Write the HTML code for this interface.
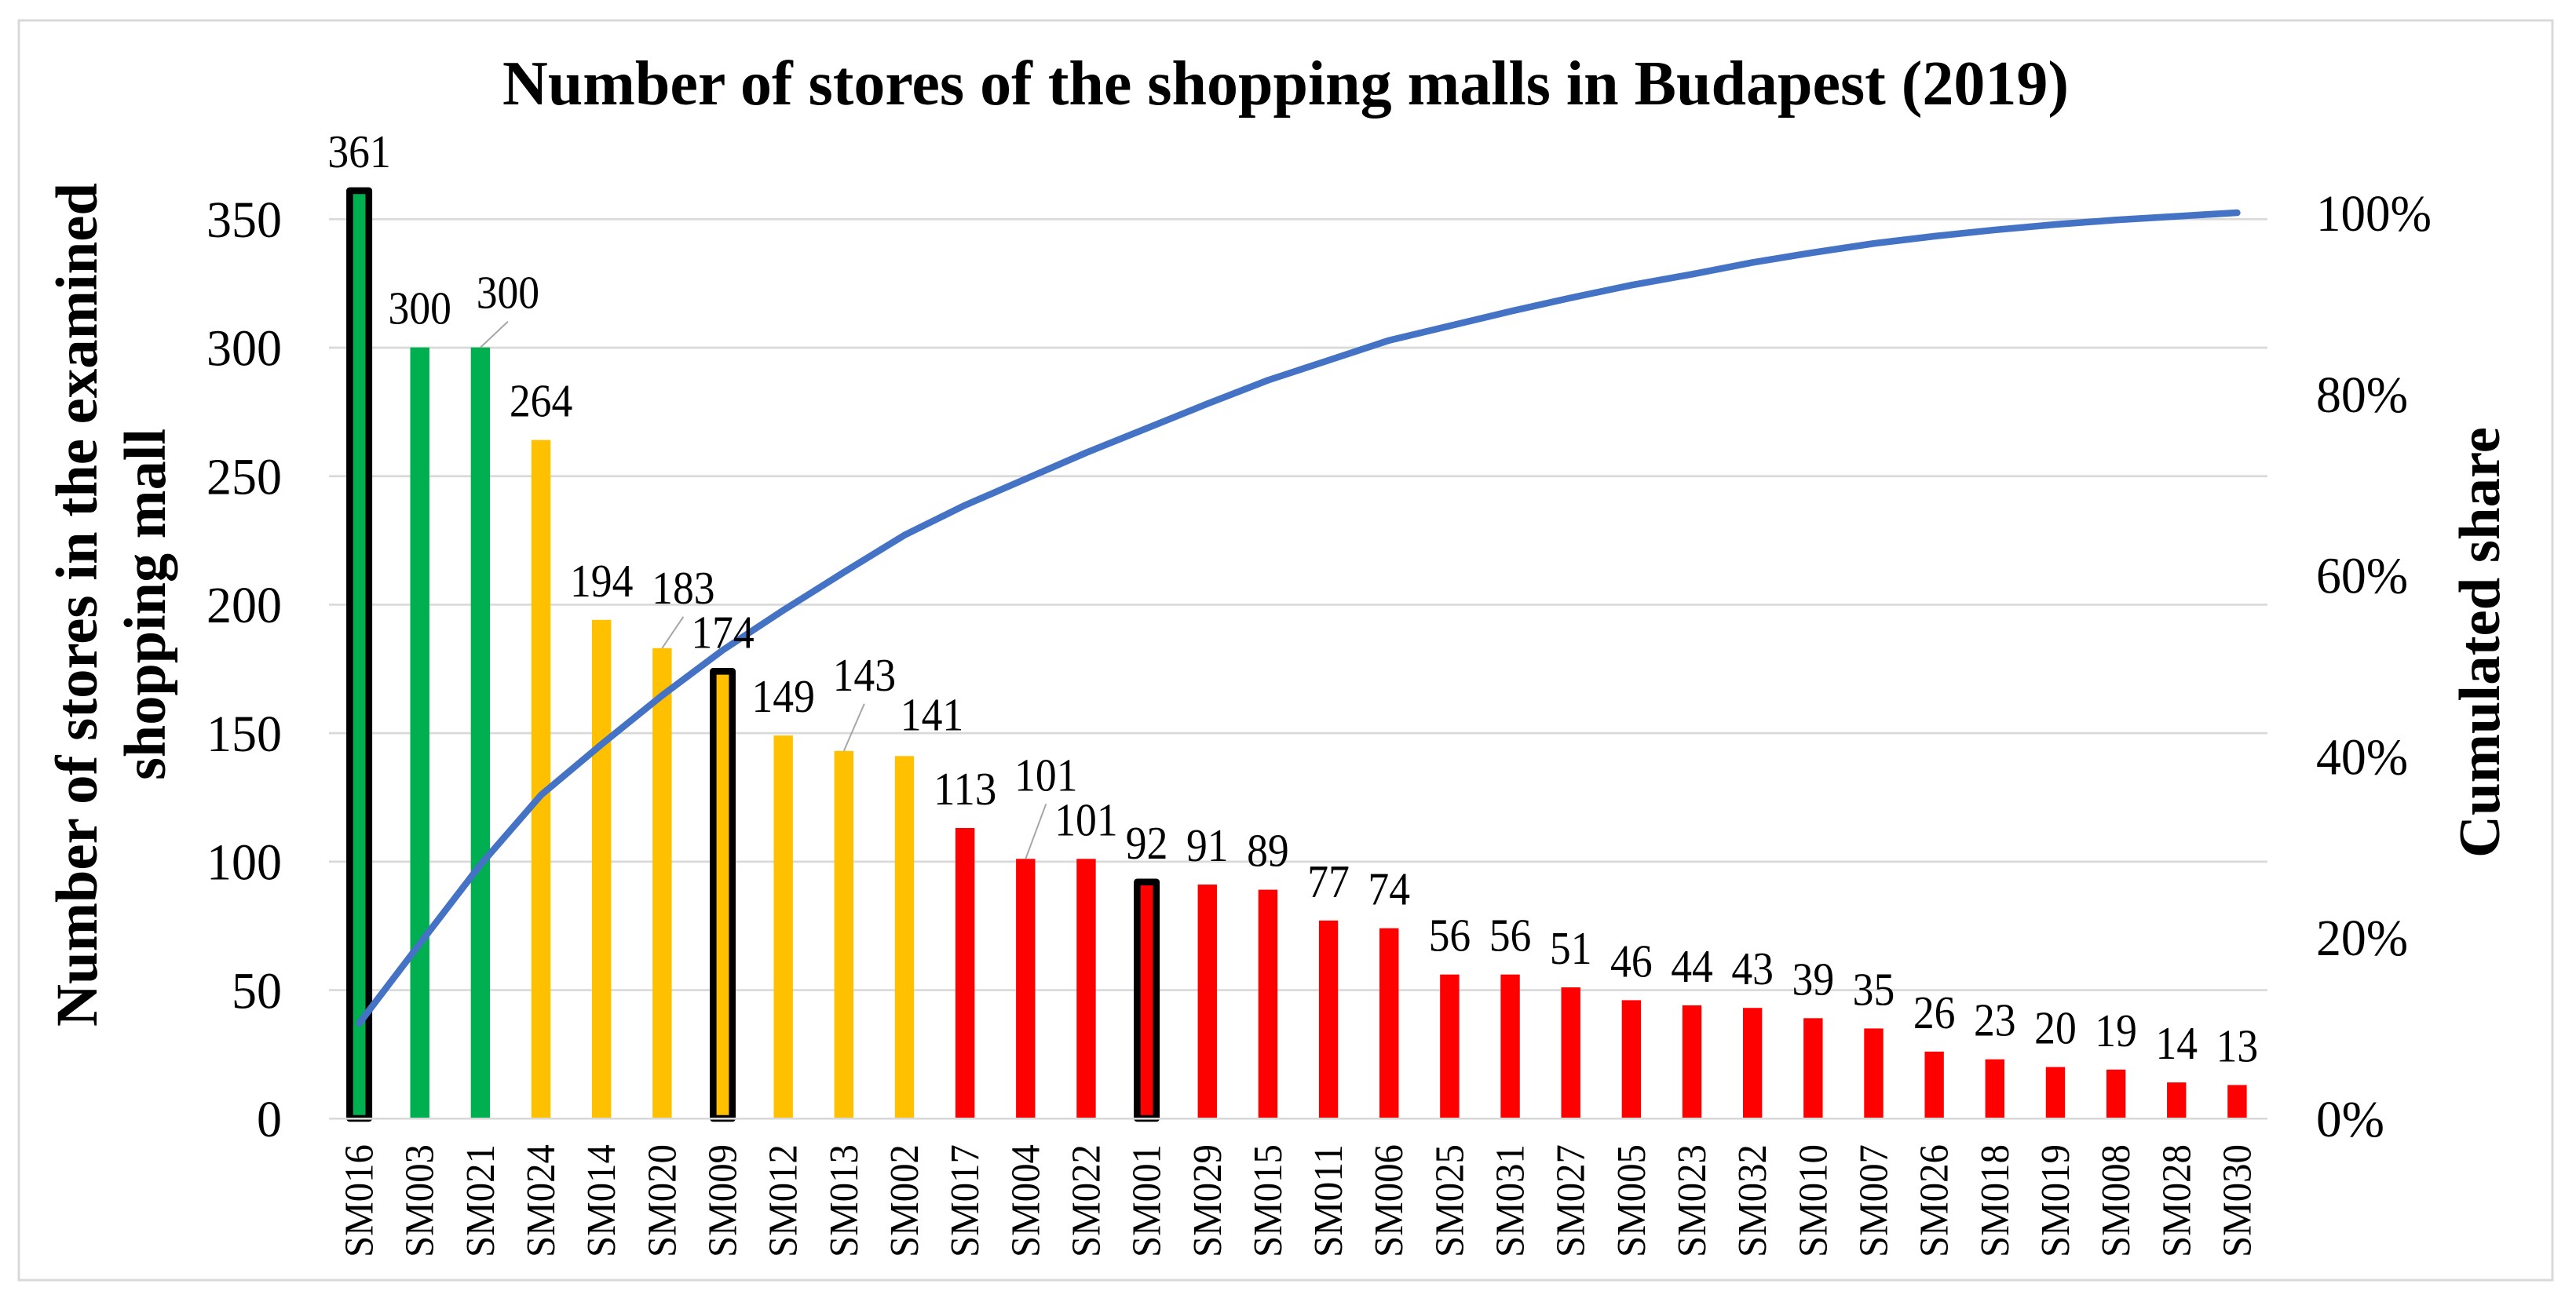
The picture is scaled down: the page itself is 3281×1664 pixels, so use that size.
<!DOCTYPE html>
<html lang="en">
<head>
<meta charset="utf-8">
<title>Number of stores of the shopping malls in Budapest (2019)</title>
<style>
html,body{margin:0;padding:0;background:#fff;}
svg{display:block;}
text{font-family:"Liberation Serif",serif;fill:#000;}
.title{font-weight:bold;}
</style>
</head>
<body>
<svg id="chart" xmlns="http://www.w3.org/2000/svg" width="3281" height="1664" viewBox="0 0 3281 1664">
  <rect x="0" y="0" width="3281" height="1664" fill="#ffffff"/>
  <rect x="24" y="26" width="3227" height="1605" fill="#ffffff" stroke="#d9d9d9" stroke-width="3"/>
  <text class="title" x="640" y="133" font-size="80" textLength="1995" lengthAdjust="spacingAndGlyphs">Number of stores of the shopping malls in Budapest (2019)</text>
  <text class="title" transform="translate(123,1308) rotate(-90)" font-size="75" textLength="1075" lengthAdjust="spacingAndGlyphs">Number of stores in the examined</text>
  <text class="title" transform="translate(210,994) rotate(-90)" font-size="75" textLength="448" lengthAdjust="spacingAndGlyphs">shopping mall</text>
  <text class="title" transform="translate(3183,1093) rotate(-90)" font-size="74" textLength="549" lengthAdjust="spacingAndGlyphs">Cumulated share</text>
</svg>
<script>
const categories = ["SM016","SM003","SM021","SM024","SM014","SM020","SM009","SM012","SM013","SM002","SM017","SM004","SM022","SM001","SM029","SM015","SM011","SM006","SM025","SM031","SM027","SM005","SM023","SM032","SM010","SM007","SM026","SM018","SM019","SM008","SM028","SM030"];
const stores = [361,300,300,264,194,183,174,149,143,141,113,101,101,92,91,89,77,74,56,56,51,46,44,43,39,35,26,23,20,19,14,13];
const cumulatedShare = [0.105,0.193,0.280,0.357,0.413,0.467,0.517,0.561,0.603,0.644,0.677,0.706,0.735,0.762,0.789,0.815,0.837,0.859,0.875,0.891,0.906,0.920,0.932,0.945,0.956,0.966,0.974,0.981,0.987,0.992,0.996,1.000];
const tiers = ["large","large","large","medium","medium","medium","medium","medium","medium","medium","small","small","small","small","small","small","small","small","small","small","small","small","small","small","small","small","small","small","small","small","small","small"];
const highlighted = ["SM016","SM009","SM001"];
const leftTicks = [0,50,100,150,200,250,300,350];
const rightTicks = [0,0.2,0.4,0.6,0.8,1];

const tierColors = {large:"#00b050",medium:"#ffc000",small:"#ff0000"};
/* manual label displacement, in px, for labels moved away from their bar */
const movedLabels = {
  SM021:{dx:35,dy:-20,leader:true},
  SM020:{dx:27,dy:-27,leader:true},
  SM013:{dx:26,dy:-47,leader:true},
  SM002:{dx:35,dy:-3,leader:false},
  SM004:{dx:26,dy:-57,leader:true}
};

const plot = {left:419,right:2888,zero:1425,pxPerStore:3.2743,pxFullShare:1154};
function xAxis(i){return plot.left+(plot.right-plot.left)/categories.length*(i+0.5);}
function yLeft(v){return plot.zero-v*plot.pxPerStore;}
function yRight(s){return plot.zero-s*plot.pxFullShare;}

const svg = document.getElementById("chart");
const NS = "http://www.w3.org/2000/svg";
function make(tag,attrs,content){
  const el=document.createElementNS(NS,tag);
  for(const k in attrs){el.setAttribute(k,attrs[k]);}
  if(content!==undefined){el.textContent=content;}
  svg.appendChild(el);
  return el;
}
function drawGridline(t){
  const y=yLeft(t);
  const grid=make("line",{x1:plot.left,x2:plot.right,y1:y+0.3,y2:y+0.3,stroke:"#d9d9d9","stroke-width":2.7});
  
  
}

leftTicks.forEach(function(t){
  if(t!==0){drawGridline(t);}
  const s=String(t);
  const label=make("text",{x:359,y:yLeft(t)+23,"font-size":66,"text-anchor":"end",textLength:s.length*32,lengthAdjust:"spacingAndGlyphs"},s);
  
  
});

rightTicks.forEach(function(t){
  const s=Math.round(t*100)+"%";
  const label=make("text",{x:2950,y:yRight(t)+23,"font-size":66,textLength:(s.length-1)*30+57,lengthAdjust:"spacingAndGlyphs"},s);
  
  
});

stores.forEach(function(v,i){
  const cx=xAxis(i), top=yLeft(v), bottom=plot.zero;
  const name=categories[i];
  const outlined=highlighted.indexOf(name)>=0;
  const bar=make("rect",{x:cx-12.2,y:top,width:24.4,height:bottom-top,fill:tierColors[tiers[i]]});
  if(outlined){
    bar.setAttribute("stroke","#000000");
    bar.setAttribute("stroke-width","8.6");
    bar.setAttribute("stroke-linejoin","round");
  }
  
  
  const cat=make("text",{transform:"translate("+(cx+17)+",1602) rotate(-90)","font-size":52,textLength:144,lengthAdjust:"spacingAndGlyphs"},name);
  
  
});

drawGridline(0);

const linePoints=cumulatedShare.map(function(s,i){return xAxis(i)+","+yRight(s);}).join(" ");
const line=make("polyline",{points:linePoints,fill:"none",stroke:"#4472c4","stroke-width":8.5,"stroke-linecap":"round","stroke-linejoin":"round"});



stores.forEach(function(v,i){
  const name=categories[i];
  const move=movedLabels[name]||{dx:0,dy:0,leader:false};
  const lx=xAxis(i)+move.dx, ly=yLeft(v)-50+move.dy;
  if(move.leader){
    const leader=make("line",{x1:lx,y1:ly+37,x2:xAxis(i),y2:yLeft(v),stroke:"#a6a6a6","stroke-width":2});
    
    
  }
  const s=String(v);
  const label=make("text",{x:lx,y:ly+20,"font-size":59,"text-anchor":"middle",textLength:s.length*26.8,lengthAdjust:"spacingAndGlyphs"},s);
  
  
});
</script>
</body>
</html>
